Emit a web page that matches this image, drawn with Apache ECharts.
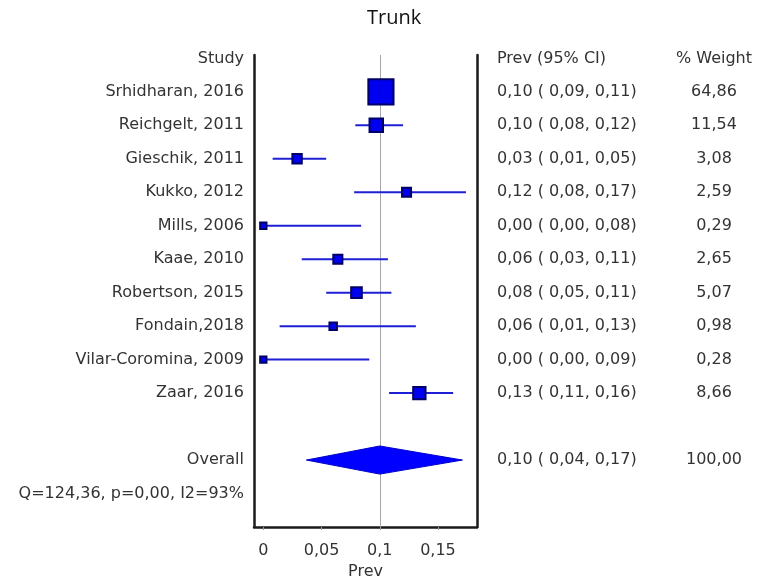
<!DOCTYPE html>
<html>
<head>
<meta charset="utf-8">
<title>Trunk</title>
<script src="https://cdn.jsdelivr.net/npm/echarts@6/dist/echarts.min.js"></script>
<style>
  html, body { margin: 0; padding: 0; background: #ffffff; }
  #chart { width: 773px; height: 585px; }
</style>
</head>
<body>
<div id="chart"></div>
<script>
// Studies in the forest plot, top to bottom
const studies = [
  'Srhidharan, 2016', 'Reichgelt, 2011', 'Gieschik, 2011', 'Kukko, 2012',
  'Mills, 2006', 'Kaae, 2010', 'Robertson, 2015', 'Fondain,2018',
  'Vilar-Coromina, 2009', 'Zaar, 2016'
];
// Prevalence point estimates and 95% CI bounds
const prev  = [0.101, 0.097, 0.029, 0.123, 0.000, 0.064, 0.080, 0.060, 0.000, 0.134];
const lower = [0.093, 0.079, 0.008, 0.078, 0.000, 0.033, 0.054, 0.014, 0.000, 0.108];
const upper = [0.108, 0.120, 0.054, 0.174, 0.084, 0.107, 0.110, 0.131, 0.091, 0.163];
// Study weights (%)
const weight = [64.86, 11.54, 3.08, 2.59, 0.29, 2.65, 5.07, 0.98, 0.28, 8.66];

// Pooled estimate
const overallLabel = 'Overall';
const overallPrev = 0.10;
const overallLower = 0.037;
const overallUpper = 0.171;
const overallWeight = 100.00;
const heterogeneity = 'Q=124,36, p=0,00, I2=93%';

// Column headers
const headStudy = 'Study';
const headCI = 'Prev (95% CI)';
const headWeight = '% Weight';

// X axis ticks
const xTicks = [0, 0.05, 0.1, 0.15];
const xTickLabels = ['0', '0,05', '0,1', '0,15'];
const xName = 'Prev';

// Row layout: header at 0, studies 1..10, pooled at 12, heterogeneity at 13
const studyRow = studies.map((_, i) => i + 1);
const overallRow = studies.length + 2;
const hetRow = overallRow + 1;

const fmt = v => v.toFixed(2).replace('.', ',');
const ciText = (p, l, u) => fmt(p) + ' ( ' + fmt(l) + ', ' + fmt(u) + ')';

const leftText = {}, ciCol = {}, wCol = {};
leftText[0] = headStudy; ciCol[0] = headCI; wCol[0] = headWeight;
studies.forEach((s, i) => {
  leftText[studyRow[i]] = s;
  ciCol[studyRow[i]] = ciText(prev[i], lower[i], upper[i]);
  wCol[studyRow[i]] = fmt(weight[i]);
});
leftText[overallRow] = overallLabel;
leftText[hetRow] = heterogeneity;
ciCol[overallRow] = ciText(overallPrev, overallLower, overallUpper);
wCol[overallRow] = fmt(overallWeight);

const leftRows = Object.keys(leftText).map(Number);
const ciRows = Object.keys(ciCol).map(Number);

const textFont = 'DejaVu Sans';
const textColor = '#333333';
const textSize = 16;

const yBase = {
  type: 'value', inverse: true, min: -0.1, max: 14,
  splitLine: { show: false }, axisTick: { show: false }
};

const chart = echarts.init(document.getElementById('chart'), null, { renderer: 'canvas' });

chart.setOption({
  animation: false,
  backgroundColor: '#ffffff',
  title: {
    text: 'Trunk', left: 362, top: 3,
    textStyle: { fontFamily: 'Open Sans', fontWeight: 'normal', fontSize: 20, color: '#111111' }
  },
  grid: { left: 254, right: 296, top: 55, bottom: 57, containLabel: false },
  xAxis: {
    type: 'value', min: -0.008, max: 0.1835,
    name: xName, nameLocation: 'middle', nameGap: 37,
    nameTextStyle: { fontFamily: textFont, fontSize: textSize, color: textColor },
    axisLine: { show: true, onZero: false, lineStyle: { color: '#1a1a1a', width: 2.5 } },
    axisTick: { show: true, length: 3, lineStyle: { color: '#999999' }, customValues: xTicks },
    splitLine: { show: false },
    axisLabel: {
      customValues: xTicks, margin: 16,
      fontFamily: textFont, fontSize: textSize, color: textColor,
      formatter: v => xTickLabels[xTicks.indexOf(v)] ?? ''
    }
  },
  yAxis: [
    Object.assign({}, yBase, {
      position: 'left',
      axisLine: { show: true, onZero: false, lineStyle: { color: '#1a1a1a', width: 2.5 } },
      axisLabel: {
        customValues: leftRows, margin: 10, align: 'right',
        fontFamily: textFont, fontSize: textSize, color: textColor,
        formatter: v => leftText[v] ?? ''
      }
    }),
    Object.assign({}, yBase, {
      position: 'right',
      axisLine: { show: true, onZero: false, lineStyle: { color: '#1a1a1a', width: 2.5 } },
      axisLabel: {
        customValues: ciRows, margin: 20, align: 'left',
        fontFamily: textFont, fontSize: textSize, color: textColor,
        formatter: v => ciCol[v] ?? ''
      }
    }),
    Object.assign({}, yBase, {
      position: 'right', offset: 237,
      axisLine: { show: false },
      axisLabel: {
        customValues: ciRows, margin: 0, align: 'center',
        fontFamily: textFont, fontSize: textSize, color: textColor,
        formatter: v => wCol[v] ?? ''
      }
    })
  ],
  series: [
    {
      // confidence interval whiskers, plus the pooled-estimate reference line
      type: 'custom', name: 'CI', z: 2,
      xAxisIndex: 0, yAxisIndex: 0,
      encode: { x: [0, 2], y: 1 },
      data: studies.map((_, i) => [lower[i], studyRow[i], upper[i]]),
      renderItem: (params, api) => {
        const a = api.coord([api.value(0), api.value(1)]);
        const b = api.coord([api.value(2), api.value(1)]);
        return {
          type: 'line',
          shape: { x1: a[0], y1: a[1], x2: b[0], y2: b[1] },
          style: { stroke: '#1f1fd6', lineWidth: 2 }
        };
      },
      markLine: {
        silent: true, symbol: 'none', z: 1,
        label: { show: false },
        lineStyle: { color: '#a8a8a8', width: 1, type: 'solid' },
        data: [{ xAxis: overallPrev }]
      }
    },
    {
      // point estimates, box area scaled by weight
      type: 'scatter', name: 'Prev', z: 3,
      xAxisIndex: 0, yAxisIndex: 0,
      symbol: 'rect',
      symbolSize: (val, p) => 5 + 2.5 * Math.sqrt(weight[p.dataIndex]),
      itemStyle: { color: '#0000f0', borderColor: '#000066', borderWidth: 2, opacity: 1 },
      data: studies.map((_, i) => [prev[i], studyRow[i]])
    },
    {
      // pooled estimate diamond
      type: 'custom', name: 'Overall', z: 3,
      xAxisIndex: 0, yAxisIndex: 0,
      encode: { x: [0, 1, 2], y: 3 },
      data: [[overallLower, overallPrev, overallUpper, overallRow]],
      renderItem: (params, api) => {
        const row = api.value(3);
        const half = 0.42;
        const pts = [
          api.coord([api.value(0), row]),
          api.coord([api.value(1), row - half]),
          api.coord([api.value(2), row]),
          api.coord([api.value(1), row + half])
        ];
        return {
          type: 'polygon',
          shape: { points: pts },
          style: { fill: '#0000ff', stroke: '#0000cc', lineWidth: 1 }
        };
      }
    }
  ]
});
</script>
</body>
</html>
